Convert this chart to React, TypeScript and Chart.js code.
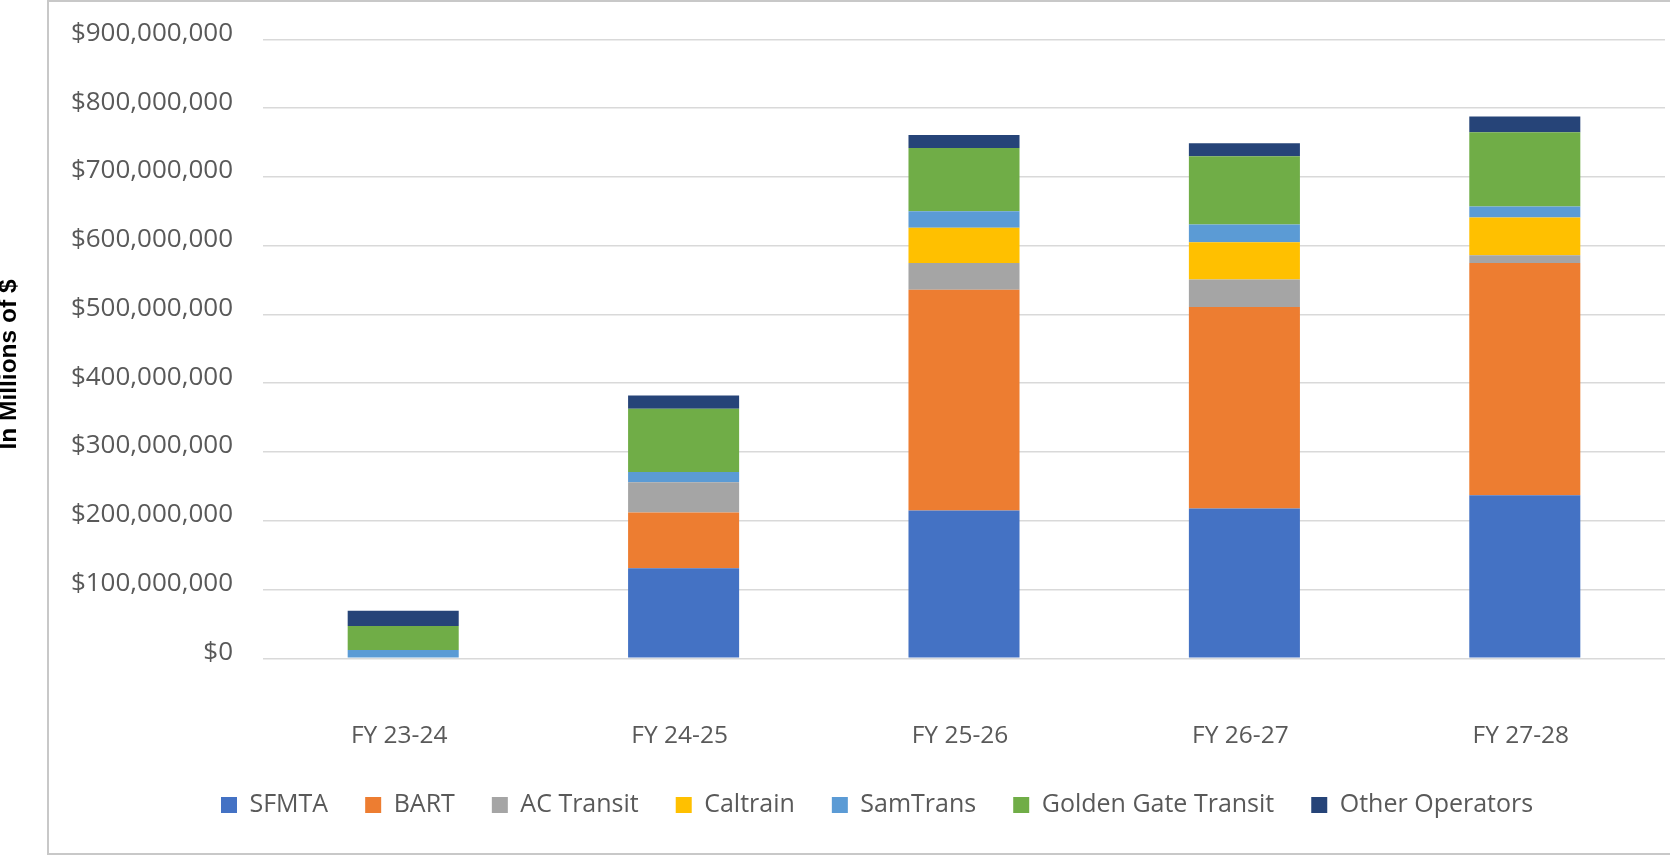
import { useEffect, useRef } from "react";
import { Chart, registerables } from "chart.js";

Chart.register(...registerables);

const categories = ["FY 23-24", "FY 24-25", "FY 25-26", "FY 26-27", "FY 27-28"];

const sfmta = [0, 131000000, 215000000, 218000000, 237000000];
const bart = [0, 81000000, 321000000, 293000000, 338000000];
const acTransit = [0, 44000000, 39000000, 40000000, 11000000];
const caltrain = [0, 0, 51000000, 54000000, 55000000];
const samTrans = [12000000, 15000000, 24000000, 26000000, 16000000];
const goldenGate = [35000000, 92000000, 92000000, 99000000, 108000000];
const otherOperators = [22000000, 19000000, 19000000, 19000000, 23000000];

const seriesNames = ["SFMTA", "BART", "AC Transit", "Caltrain", "SamTrans", "Golden Gate Transit", "Other Operators"];
const seriesValues = [sfmta, bart, acTransit, caltrain, samTrans, goldenGate, otherOperators];
const seriesColors = ["#4472C4", "#ED7D31", "#A5A5A5", "#FFC000", "#5B9BD5", "#70AD47", "#264478"];

const yMin = 0;
const yMax = 900000000;
const yStep = 100000000;
const yTitle = "In Millions of $";

const W = 1670;
const H = 856;

const LEGEND_PAD = 37;
const LEGEND_START_X = 221;

const framePlugin = {
  id: "frameAndTitle",
  beforeDraw(chart: any) {
    const ctx = chart.ctx;
    ctx.save();
    ctx.fillStyle = "#ffffff";
    ctx.fillRect(0, 0, W, H);
    ctx.strokeStyle = "#c8c8c8";
    ctx.lineWidth = 2;
    ctx.strokeRect(48, 1, 1700, 853);
    ctx.restore();
  },
  afterDraw(chart: any) {
    const ctx = chart.ctx;
    ctx.save();
    ctx.translate(9.5, 364.5);
    ctx.rotate(-Math.PI / 2);
    ctx.font = 'bold 24.5px "Liberation Sans", Arial, sans-serif';
    ctx.fillStyle = "#000000";
    ctx.textAlign = "center";
    ctx.textBaseline = "middle";
    ctx.fillText(yTitle, 0, 0);
    ctx.restore();
  },
};

const legendShiftPlugin = {
  id: "legendShift",
  afterLayout(chart: any) {
    const lg = chart.legend;
    if (lg && lg.lineWidths && lg.lineWidths.length) {
      const lw = lg.lineWidths[0];
      lg.left = 0;
      lg.right = 2 * LEGEND_START_X - LEGEND_PAD + lw;
    }
  },
};

export default function App() {
  const canvasRef = useRef<HTMLCanvasElement | null>(null);

  useEffect(() => {
    const canvas = canvasRef.current;
    if (!canvas) return;
    const chart = new Chart(canvas, {
      type: "bar",
      data: {
        labels: categories,
        datasets: seriesNames.map((name, i) => ({
          label: name,
          data: seriesValues[i],
          backgroundColor: seriesColors[i],
          borderWidth: 0,
          categoryPercentage: 1,
          barPercentage: 0.396,
        })),
      },
      options: {
        responsive: false,
        animation: false,
        devicePixelRatio: 1,
        layout: { padding: { top: 39.4, left: 0, right: 5, bottom: 28.5 } },
        plugins: {
          tooltip: { enabled: false },
          title: { display: false },
          legend: {
            position: "bottom",
            labels: {
              boxWidth: 16,
              boxHeight: 16,
              padding: LEGEND_PAD,
              color: "#595959",
              font: { family: "'Open Sans', sans-serif", size: 25 },
            },
          },
        },
        scales: {
          x: {
            stacked: true,
            grid: { display: false, drawTicks: false },
            border: { display: false },
            ticks: {
              color: "#595959",
              font: { family: "'Open Sans', sans-serif", size: 24.5 },
              padding: 63,
              labelOffset: -4,
            },
            afterFit(scale: any) {
              scale.height = 97.2;
            },
          },
          y: {
            stacked: true,
            min: yMin,
            max: yMax,
            grid: { color: "#d9d9d9", lineWidth: 1.5, drawTicks: false },
            border: { display: false },
            ticks: {
              stepSize: yStep,
              padding: 30,
              labelOffset: -6,
              color: "#595959",
              font: { family: "'Open Sans', sans-serif", size: 26 },
              callback: (v: any) => "$" + Number(v).toLocaleString("en-US"),
            },
            afterFit(scale: any) {
              scale.width = 263;
              scale.paddingTop = 0;
              scale.paddingBottom = 0;
            },
          },
        },
      },
      plugins: [framePlugin, legendShiftPlugin],
    } as any);
    return () => chart.destroy();
  }, []);

  return (
    <div style={{ position: "fixed", left: 0, top: 0, width: W, height: H, background: "#fff" }}>
      <canvas ref={canvasRef} width={W} height={H} style={{ width: W, height: H, display: "block" }} />
    </div>
  );
}
